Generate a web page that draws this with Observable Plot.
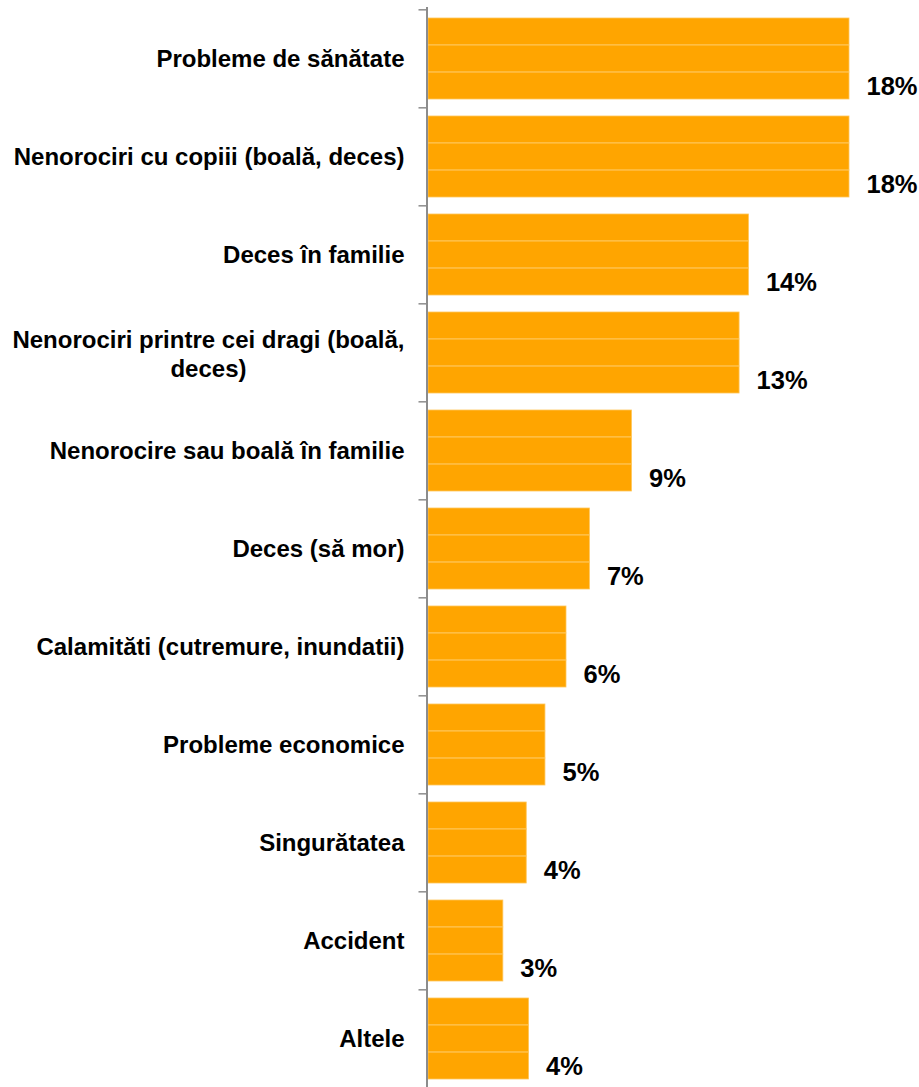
<!DOCTYPE html>
<html>
<head>
<meta charset="utf-8">
<script src="https://cdn.jsdelivr.net/npm/d3@7"></script>
<script src="https://cdn.jsdelivr.net/npm/@observablehq/plot@0.6"></script>
<style>
  html, body { margin: 0; padding: 0; background: #ffffff; overflow: hidden; }
  #chart svg { display: block; }
</style>
</head>
<body>
<div id="chart"></div>
<script>
const categories = [
  "Probleme de sănătate",
  "Nenorociri cu copiii (boală, deces)",
  "Deces în familie",
  "Nenorociri printre cei dragi (boală, deces)",
  "Nenorocire sau boală în familie",
  "Deces (să mor)",
  "Calamităti (cutremure, inundatii)",
  "Probleme economice",
  "Singurătatea",
  "Accident",
  "Altele"
];
const categoryLabels = [
  "Probleme de sănătate",
  "Nenorociri cu copiii (boală, deces)",
  "Deces în familie",
  "Nenorociri printre cei dragi (boală,\ndeces)",
  "Nenorocire sau boală în familie",
  "Deces (să mor)",
  "Calamităti (cutremure, inundatii)",
  "Probleme economice",
  "Singurătatea",
  "Accident",
  "Altele"
];
const values = [18.0, 18.0, 13.7, 13.3, 8.7, 6.9, 5.9, 5.0, 4.2, 3.2, 4.3];
const valueLabels = ["18%", "18%", "14%", "13%", "9%", "7%", "6%", "5%", "4%", "3%", "4%"];

const data = categories.map((c, i) => ({cat: c, label: categoryLabels[i], value: values[i], text: valueLabels[i]}));

const FONT = "'Liberation Sans', Arial, Helvetica, sans-serif";
const W = 919, H = 1090, MT = 7, MB = 1, ML = 428, MR = 70;
const PAD = 0.175;
const step = (H - MT - MB) / categories.length;
const bw = step * (1 - PAD);
const third = bw / 3;
const catSize = 24, gap = 24;

// measure multi-line label widths to centre lines within the block
const ctx = document.createElement("canvas").getContext("2d");
ctx.font = `bold ${catSize}px ${FONT}`;
const single = data.filter(d => !d.label.includes("\n"));
const multi = data.filter(d => d.label.includes("\n"));
const multiMarks = multi.map(d => {
  const w = Math.max(...d.label.split("\n").map(s => ctx.measureText(s).width));
  return Plot.text([d], {x: 0, y: "cat", text: "label", textAnchor: "middle", lineAnchor: "middle",
    lineHeight: 1.2, dx: -(gap + w / 2), fontSize: catSize, fontWeight: "bold", fill: "#000"});
});

const chart = Plot.plot({
  width: W, height: H,
  marginLeft: ML, marginRight: MR, marginTop: MT, marginBottom: MB,
  style: {fontFamily: FONT, background: "#fff"},
  x: {domain: [0, 18], axis: null},
  y: {domain: categories, paddingInner: PAD, paddingOuter: PAD / 2, axis: null},
  marks: [
    ...[0, 1, 2].map(k => Plot.barX(data, {
      x: "value", y: "cat", fill: "#FFA500", stroke: "#FFC65A", strokeWidth: 0.8,
      insetTop: k * third, insetBottom: (2 - k) * third
    })),
    Plot.ruleX([0], {stroke: "#8c8c8c", strokeWidth: 2, dx: -1.5}),
    Plot.ruleY(data, {y: "cat", x1: 0, x2: 0, insetLeft: -8, dx: -1.5, dy: -step / 2, stroke: "#8c8c8c", strokeWidth: 1.5}),
    Plot.text(data, {x: "value", y: "cat", text: "text", textAnchor: "start", dx: 17, dy: 27.5,
      fontSize: 25.5, fontWeight: "bold", fill: "#000"}),
    Plot.text(single, {x: 0, y: "cat", text: "label", textAnchor: "end", dx: -gap,
      fontSize: catSize, fontWeight: "bold", fill: "#000"}),
    ...multiMarks
  ]
});
document.getElementById("chart").append(chart);
</script>
</body>
</html>
